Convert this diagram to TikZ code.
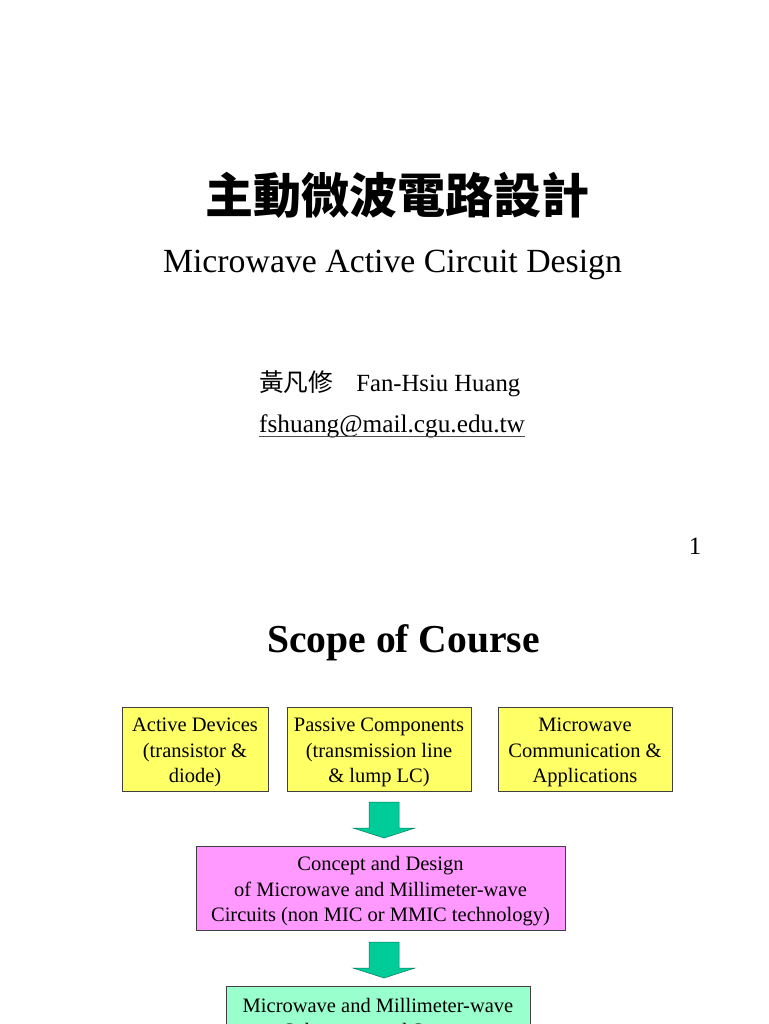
\documentclass[tikz,border=0pt]{standalone}
\usepackage{fontspec}
\setmainfont{Liberation Serif}
\newfontfamily\cjk{Noto Sans CJK TC}
\usetikzlibrary{positioning}

\definecolor{boxyellow}{HTML}{FFFF66}
\definecolor{boxpink}{HTML}{FF99FF}
\definecolor{boxgreen}{HTML}{99FFCC}
\definecolor{arrowgreen}{HTML}{00CC99}

\tikzset{
  scopebox/.style={draw=black!75,line width=0.8pt,inner sep=0pt},
  scopetext/.style={align=center,inner sep=0pt,
    font=\fontsize{20.5}{25.5}\selectfont},
  blockarrow/.style={fill=arrowgreen,draw=arrowgreen!60!black,line width=0.5pt}
}

% block arrow pointing down: x, top, tip
\newcommand{\downblock}[3]{%
  \filldraw[blockarrow] (#1-15,#2) -- (#1+15,#2) -- (#1+15,#3-10) -- (#1+31,#3-10)
    -- (#1,#3) -- (#1-31,#3-10) -- (#1-15,#3-10) -- cycle;}

\begin{document}
\begin{tikzpicture}[x=1pt,y=-1pt]
  \useasboundingbox (0,0) rectangle (768,1024);
  \clip (0,0) rectangle (768,1024);
  % title slide
  \node[anchor=base,inner sep=0pt] (title) at (397.5,214)
    {\cjk\bfseries\fontsize{48}{52}\selectfont 主動微波電路設計};
  \node[anchor=base,inner sep=0pt] (subtitle) at (392.5,272)
    {\fontsize{33.8}{38}\selectfont Microwave Active Circuit Design};
  \node[anchor=base west,inner sep=0pt] (author) at (259,391)
    {\fontsize{24.7}{28}\selectfont{\cjk 黃凡修}\hspace{23pt}Fan-Hsiu Huang};
  \node[anchor=base west,inner sep=0pt] (email) at (259,432)
    {\fontsize{25.3}{28}\selectfont fshuang@mail.cgu.edu.tw};
  \draw[black!70,line width=0.9pt] ([yshift=-4pt]email.base west) -- ([yshift=-4pt]email.base east);
  \node[anchor=base,inner sep=0pt] (pagenum) at (695,554)
    {\fontsize{25}{28}\selectfont 1};
  % scope of course
  \node[anchor=base,inner sep=0pt] (scope) at (403.5,652)
    {\bfseries\fontsize{39.6}{44}\selectfont Scope of Course};
  \node[scopebox,fill=boxyellow,minimum width=146,minimum height=84] (active) at (195,749) {};
  \node[scopetext] (activetext) at ([yshift=-3.5pt]active.center)
    {Active Devices\\(transistor \&\\diode)};
  \node[scopebox,fill=boxyellow,minimum width=184,minimum height=84] (passive) at (379,749) {};
  \node[scopetext] (passivetext) at ([yshift=-3.5pt]passive.center)
    {Passive Components\\(transmission line\\\& lump LC)};
  \node[scopebox,fill=boxyellow,minimum width=174,minimum height=84] (comm) at (585,749) {};
  \node[scopetext] (commtext) at ([yshift=-3.5pt]comm.center)
    {Microwave\\Communication \&\\Applications};
  \node[scopebox,fill=boxpink,minimum width=369,minimum height=84] (concept) at (380.5,888) {};
  \node[scopetext] (concepttext) at ([yshift=-3.5pt]concept.center)
    {Concept and Design\\of Microwave and Millimeter-wave\\Circuits (non MIC or MMIC technology)};
  \node[scopebox,fill=boxgreen,minimum width=304,minimum height=60,anchor=north] (subsys) at (378,986) {};
  \node[scopetext] (subsystext) at ([yshift=-3.5pt]subsys.center)
    {Microwave and Millimeter-wave\\Subsystem and System};
  \downblock{384}{802}{838}
  \downblock{384}{942}{978}
\end{tikzpicture}
\end{document}
